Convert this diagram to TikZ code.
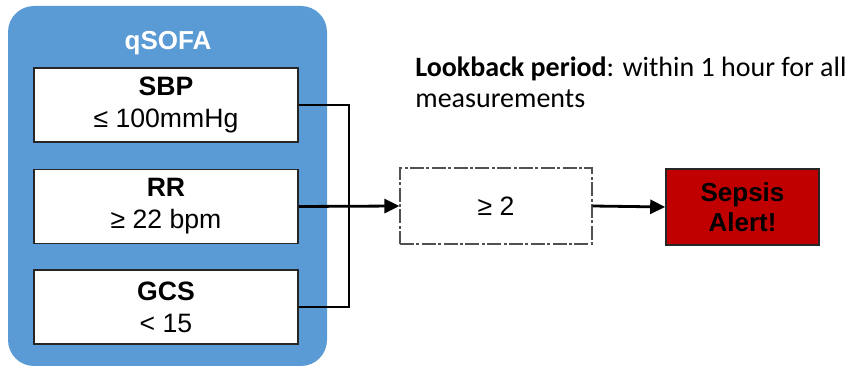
\documentclass[tikz,border=0pt]{standalone}
\usepackage{fontspec}
\setmainfont{Liberation Sans}
\newfontfamily\notefont{Carlito}
\usetikzlibrary{arrows.meta,positioning}
\definecolor{Panel}{HTML}{5B9BD5}
\definecolor{Alarm}{HTML}{C00000}
\definecolor{Frame}{HTML}{262626}
\tikzset{panel/.style={fill=Panel,rounded corners=13pt,inner sep=0pt},
  crit/.style={draw=Frame,fill=white,line width=0.8pt,align=center,inner sep=0pt,
    minimum width=132pt,minimum height=37pt,font=\fontsize{13.3}{16}\selectfont},
  gate/.style={draw=Frame!80,fill=white,line width=0.6pt,
    dash pattern=on 7pt off 1.2pt on 1.5pt off 1.2pt,inner sep=0pt,
    minimum width=96pt,minimum height=38pt,font=\fontsize{13.3}{16}\selectfont},
  alert/.style={draw=Frame,fill=Alarm,line width=0.8pt,align=center,inner sep=0pt,
    minimum width=76.5pt,minimum height=38pt,font=\bfseries\fontsize{13}{15}\selectfont},
  edge/.style={-{Triangle[length=7.5pt,width=7pt]},line width=1.4pt},
  wire/.style={line width=1.4pt}}
\begin{document}
\begin{tikzpicture}[x=0.5pt,y=-0.5pt]
  \useasboundingbox (0,0) rectangle (848,369);
  % score panel with the three criteria
  \node[panel,minimum width=159.5pt,minimum height=180pt] (qsofa) at (167.5,186) {};
  \node[text=white,font=\bfseries\fontsize{13}{15}\selectfont] (title) at (168,43) {qSOFA};
  \node[crit] (sbp) at (166,105) {\textbf{SBP}\\≤ 100mmHg};
  \node[crit] (rr) at (166,206.5) {\textbf{RR}\\≥ 22 bpm};
  \node[crit] (gcs) at (166,307) {\textbf{GCS}\\< 15};
  % rule and outcome
  \node[gate] (check) at (496,206) {≥ 2};
  \node[alert] (sepsis) at (742.5,207) {Sepsis\\Alert!};
  \node[anchor=base west,align=left,inner sep=0pt,
    font=\notefont\fontsize{14}{15.5}\selectfont] (note) at (415,108)
    {\textbf{Lookback period}: within 1 hour for all\\measurements};
  \coordinate (bus) at (349,206.5);
  \draw[wire] (sbp.east) -| (bus);
  \draw[wire] (gcs.east) -| (bus);
  \draw[edge] (rr.east) -- (check.west);
  \draw[edge] (check.east) -- (sepsis.west);
\end{tikzpicture}
\end{document}
